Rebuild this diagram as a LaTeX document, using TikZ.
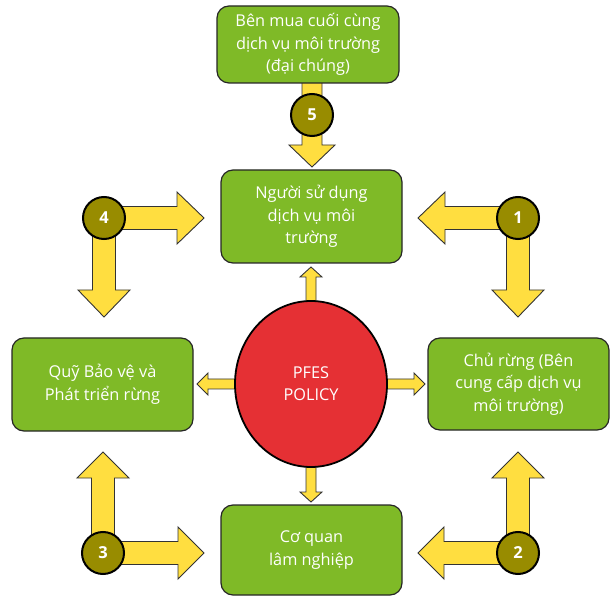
\documentclass[tikz,border=0pt]{standalone}
\usepackage{fontspec}
\setmainfont{Open Sans}
\usetikzlibrary{calc,backgrounds,shapes.geometric}
\definecolor{boxgreen}{RGB}{127,186,39}
\definecolor{arrowyellow}{RGB}{255,222,64}
\definecolor{numolive}{RGB}{152,140,0}
\definecolor{policyred}{RGB}{229,48,52}
\newcommand\fatarrow[5]{%
  \path ($(#2)!#5!(#1)$) coordinate (hb);
  \draw[fatarrowstyle] ($(#1)!#3!90:(#2)$) -- ($(hb)!#3!-90:(#1)$) -- ($(hb)!#4!-90:(#1)$)
    -- (#2) -- ($(hb)!#4!90:(#1)$) -- ($(hb)!#3!90:(#1)$) -- ($(#1)!#3!-90:(#2)$) -- cycle;
}
\begin{document}
\begin{tikzpicture}[x=1pt,y=-1pt,
  box/.style={draw=black!85, line width=1.2pt, fill=boxgreen, rounded corners=12pt,
    text=white, font=\fontsize{16.3}{22.5}\selectfont, align=center, inner sep=0pt},
  numcirc/.style={circle, draw=black, line width=2pt, fill=numolive, minimum size=42,
    inner sep=0pt, text=white, font=\fontsize{16.5}{18}\selectfont\bfseries},
  fatarrowstyle/.style={fill=arrowyellow, draw=black!80, line width=0.9pt, line join=miter},
  policy/.style={ellipse, draw=black, line width=1.8pt, fill=policyred, minimum width=152,
    minimum height=166, inner sep=0pt, text=white, align=center,
    font=\fontsize{16.3}{22}\selectfont}]
\useasboundingbox (0,0) rectangle (613,601);

% boxes
\node[box, minimum width=182, minimum height=77] (buyer) at (308,44.5)
  {Bên mua cuối cùng\\dịch vụ môi trường\\(đại chúng)};
\node[box, minimum width=181, minimum height=93] (user) at (311.5,216.5)
  {Người sử dụng\\dịch vụ môi\\trường};
\node[box, minimum width=181, minimum height=93] (fund) at (102.5,384.5)
  {Quỹ Bảo vệ và\\Phát triển rừng};
\node[box, minimum width=181, minimum height=92] (owner) at (518.5,384)
  {Chủ rừng (Bên\\cung cấp dịch vụ\\môi trường)};
\node[box, minimum width=181, minimum height=90] (agency) at (311.5,550)
  {Cơ quan\\lâm nghiệp};

% policy
\node[policy] (pol) at (311,384) {PFES\\POLICY};

% number circles
\node[numcirc] (n5) at (312,115) {5};
\node[numcirc] (n4) at (104,218) {4};
\node[numcirc] (n1) at (518,218) {1};
\node[numcirc] (n3) at (103,553) {3};
\node[numcirc] (n2) at (518,553) {2};

% arrow tips
\coordinate (s5) at ($(n5)+(0,-35)$);
\coordinate (t5) at ($(n5)+(0,52)$);
\coordinate (t4r) at ($(n4)+(100,0)$);
\coordinate (t4d) at ($(n4)+(0,99)$);
\coordinate (t1l) at ($(n1)+(-100,0)$);
\coordinate (t1d) at ($(n1)+(0,99)$);
\coordinate (t3u) at ($(n3)+(0,-101)$);
\coordinate (t3r) at ($(n3)+(101,0)$);
\coordinate (t2u) at ($(n2)+(0,-101)$);
\coordinate (t2l) at ($(n2)+(-100,0)$);
\coordinate (pu) at ($(pol.center)+(0,-117)$);
\coordinate (pd) at ($(pol.center)+(0,118)$);
\coordinate (pl) at ($(pol.center)+(-114,0)$);
\coordinate (pr) at ($(pol.center)+(114,0)$);

\begin{pgfonlayer}{background}
\fatarrow{s5}{t5}{10pt}{23pt}{22pt}
\fatarrow{n4}{t4r}{11.5pt}{26pt}{27pt}
\fatarrow{n4}{t4d}{11.5pt}{26pt}{27pt}
\fatarrow{n1}{t1l}{11.5pt}{26pt}{27pt}
\fatarrow{n1}{t1d}{11.5pt}{26pt}{27pt}
\fatarrow{n3}{t3u}{11.5pt}{26pt}{26pt}
\fatarrow{n3}{t3r}{11.5pt}{26pt}{26pt}
\fatarrow{n2}{t2u}{11.5pt}{26pt}{26pt}
\fatarrow{n2}{t2l}{11.5pt}{26pt}{26pt}
\fatarrow{pol.center}{pu}{5pt}{11pt}{10pt}
\fatarrow{pol.center}{pd}{5pt}{11pt}{10pt}
\fatarrow{pol.center}{pl}{5pt}{11pt}{11pt}
\fatarrow{pol.center}{pr}{5pt}{11pt}{11pt}
\end{pgfonlayer}
\end{tikzpicture}
\end{document}
